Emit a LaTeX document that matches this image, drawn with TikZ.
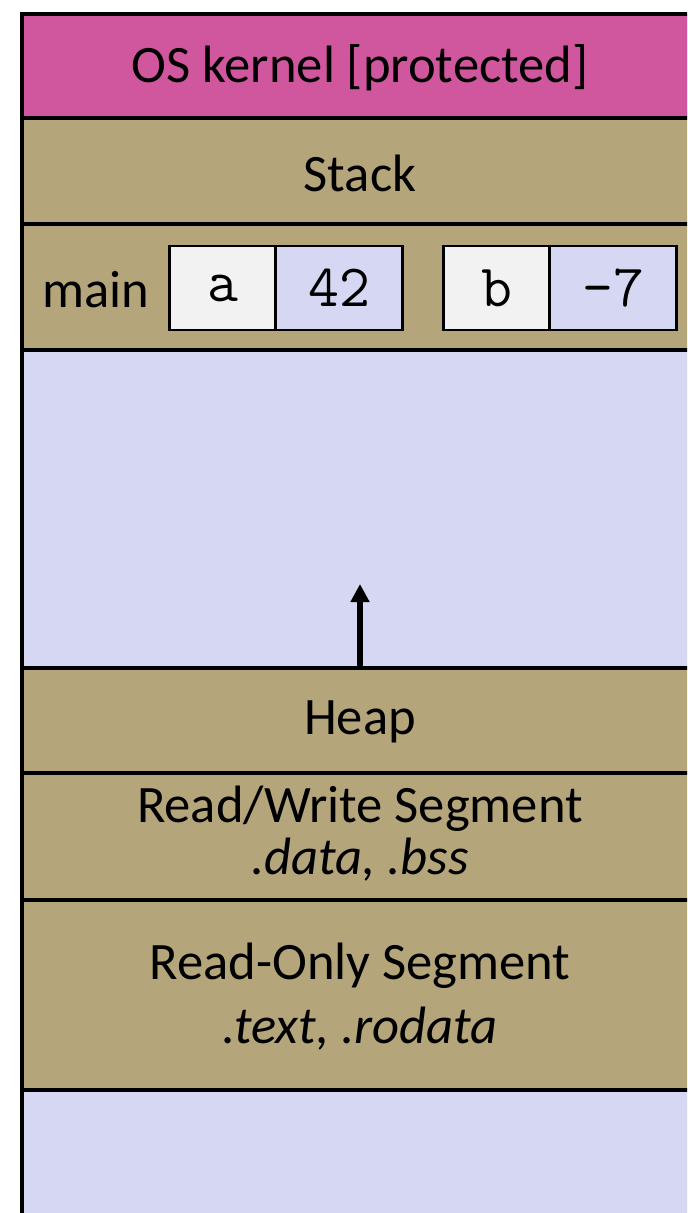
\documentclass[tikz,border=0pt]{standalone}
\usepackage{fontspec}
\setmainfont{Carlito}
\usetikzlibrary{positioning,arrows.meta}
\definecolor{kernelpink}{HTML}{D0579E}
\definecolor{segtan}{HTML}{B5A57B}
\definecolor{freelav}{HTML}{D6D7F3}
\definecolor{namegray}{HTML}{F2F2F2}
\tikzset{
  seglabel/.style={font=\fontsize{26.3}{30}\selectfont, inner sep=0pt},
  varbox/.style={draw=black, line width=1.1pt, fill=namegray, minimum width=53pt, minimum height=42pt,
    inner sep=0pt, outer sep=0pt, font=\fontsize{30}{32}\ttfamily},
  valbox/.style={varbox, fill=freelav, minimum width=63.5pt}
}
\begin{document}
\begin{tikzpicture}[line cap=butt,line join=miter,x=0.5pt,y=-0.5pt]
		\useasboundingbox (0,0) rectangle (687,1213);
		\clip (0,0) rectangle (687,1213);
		% bands
		\fill [kernelpink] (22,14) rectangle (700,118);
		\fill [segtan] (22,118) rectangle (700,350);
		\fill [freelav] (22,350) rectangle (700,668);
		\fill [segtan] (22,668) rectangle (700,1090);
		\fill [freelav] (22,1090) rectangle (700,1220);
		\foreach \y in {118,224,350,668,773,900,1090}
			\draw [line width=2pt] (22,\y) -- (700,\y);
		\draw [line width=2pt] (700,14) -- (22,14) -- (22,1220);
		% labels
		\node [seglabel] (kernel) at (360,68) {OS kernel [protected]};
		\node [seglabel] (stack) at (360,173) {Stack};
		\node [seglabel] (mainfn) at (96,290) {main};
		\node [seglabel] (heap) at (360,722) {Heap};
		\node [seglabel] (rwname) at (360,809) {Read/Write Segment};
		\node [seglabel] (rwsect) at (360,860) {\itshape .data, .bss};
		\node [seglabel] (roname) at (360,966) {Read-Only Segment};
		\node [seglabel] (rosect) at (360,1029) {\itshape .text, .rodata};
		% stack frame of main
		\node [varbox] (vara) at (222.5,288) {a};
		\node [valbox, right=0pt of vara] (vala) {42};
		\node [varbox] (varb) at (496.5,288) {b};
		\node [valbox, right=0pt of varb] (valb) {-7};
		% heap grows up
		\coordinate (heaptop) at (360,667);
		\coordinate (heapgrow) at (360,584);
		\draw [line width=2.6pt, -{Triangle[length=9pt,width=9pt]}] (heaptop) -- (heapgrow);
	\end{tikzpicture}
\end{document}
